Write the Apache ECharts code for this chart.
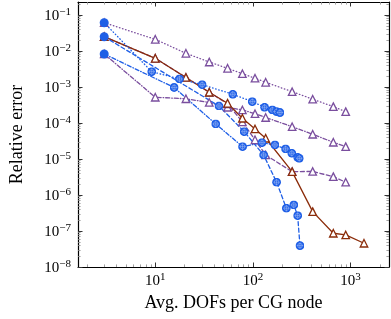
<!DOCTYPE html>
<html><head><meta charset="utf-8">
<script src="https://cdn.jsdelivr.net/npm/echarts@6/dist/echarts.min.js"></script>
<style>html,body{margin:0;padding:0;background:#fff}#c{width:391px;height:319px}</style>
</head><body><div id="c"></div>
<script>
// ---- data ----
const xTickValues = [10, 100, 1000];
const yTickValues = [1e-8, 1e-7, 1e-6, 1e-5, 1e-4, 1e-3, 1e-2, 1e-1];

const xPurple = [3, 10, 20.6, 35.7, 55, 78, 105, 135, 252, 409, 665, 891];
const purpleDotted  = [0.061, 0.0211, 0.00863, 0.00494, 0.0033, 0.00234, 0.00175, 0.00135, 7.4e-4, 4.58e-4, 2.84e-4, 2.06e-4];
const purpleDashDot = [0.00826, 5.18e-4, 4.7e-4, 3.71e-4, 2.73e-4, 2.30e-4, 1.81e-4, 1.42e-4, 7.89e-5, 4.85e-5, 2.91e-5, 2.2e-5];
const purpleDashed  = [0.0249, 0.00627, 0.00184, 7.13e-4, 3.4e-4, 1.07e-4, 3.4e-5, 1.29e-5, 4.44e-6, 4.5e-6, 3.22e-6, 2.26e-6];

const xBrown = [3, 10, 20.6, 35.7, 55, 78, 105, 135, 252, 409, 665, 891, 1371];
const brownSolid = [0.0249, 0.00627, 0.00184, 7.13e-4, 3.52e-4, 1.35e-4, 6.81e-5, 3.76e-5, 4.44e-6, 3.44e-7, 8.63e-8, 7.74e-8, 4.55e-8];

const xBlueDotted = [3, 9.2, 17.7, 30.2, 62.2, 98.4, 131.6, 158, 174.5, 189];
const blueDotted  = [0.061, 0.00266, 0.00167, 0.00116, 6.27e-4, 3.91e-4, 2.73e-4, 2.30e-4, 2.07e-4, 1.95e-4];

const xBlueDashed = [3, 44.9, 81.4, 128.6, 174.6, 220, 262, 287, 303];
const blueDashed  = [0.0249, 2.96e-4, 5.73e-5, 1.29e-5, 2.26e-6, 4.28e-7, 5.27e-7, 2.66e-7, 3.91e-8];

const xBlueDashDot = [3, 15.6, 41.6, 78.3, 123.7, 168, 216, 250, 287, 298];
const blueDashDot  = [0.00826, 9.68e-4, 9.37e-5, 2.2e-5, 2.84e-5, 2.45e-5, 1.90e-5, 1.44e-5, 1.11e-5, 1.04e-5];

// ---- styling ----
const FONT = 'Liberation Serif';
const PURPLE = '#7a4e9e', BROWN = '#8b2c0a', BLUE = '#1f5fe6';
const X_MIN = 1.618, X_MAX = 2472, Y_MIN = 0.995e-8, Y_MAX = 0.2296;

function minorsBetween(lo, hi) {
  const out = [];
  for (let e = Math.floor(Math.log10(lo)); e <= Math.ceil(Math.log10(hi)); e++) {
    for (let k = 2; k <= 9; k++) {
      const v = k * Math.pow(10, e);
      if (v > lo && v < hi) out.push(v);
    }
  }
  return out;
}
const xMinor = minorsBetween(X_MIN, X_MAX);
const yMinor = minorsBetween(Y_MIN, Y_MAX);

const rich = {
  b: {fontFamily: FONT, fontSize: 15, lineHeight: 17, verticalAlign: 'bottom', color: '#000'},
  s: {fontFamily: FONT, fontSize: 11, lineHeight: 6, verticalAlign: 'top', color: '#000'}
};
function powFmt(v) {
  const e = Math.round(Math.log10(v));
  return '{b|10}{s|' + (e < 0 ? '\u2212' + (-e) : e) + '}';
}

function axis(kind, pos, major, withLabel, line) {
  const isX = kind === 'x';
  return {
    type: 'log', logBase: 10, position: pos,
    min: isX ? X_MIN : Y_MIN, max: isX ? X_MAX : Y_MAX,
    splitLine: {show: false},
    axisLine: {show: line, lineStyle: {color: '#000', width: 1.2}},
    axisTick: {
      show: true, inside: true,
      length: major ? 4.5 : 2.6,
      customValues: major ? (isX ? xTickValues : yTickValues) : (isX ? xMinor : yMinor),
      lineStyle: {color: major ? '#333' : '#8a8a8a', width: major ? 1 : 0.8}
    },
    axisLabel: withLabel ? {
      customValues: isX ? xTickValues : yTickValues,
      formatter: powFmt, rich: rich, margin: isX ? 5 : 7
    } : {show: false}
  };
}

const xAxes = [
  axis('x', 'bottom', true, true, true),
  axis('x', 'bottom', false, false, false),
  axis('x', 'top', true, false, true),
  axis('x', 'top', false, false, false)
];
Object.assign(xAxes[0], {
  name: 'Avg. DOFs per CG node', nameLocation: 'middle', nameGap: 27,
  nameTextStyle: {fontFamily: FONT, fontSize: 18, color: '#000'}
});
const yAxes = [
  axis('y', 'left', true, true, true),
  axis('y', 'left', false, false, false),
  axis('y', 'right', true, false, true),
  axis('y', 'right', false, false, false)
];
Object.assign(yAxes[0], {
  name: 'Relative error', nameLocation: 'middle', nameGap: 52, nameRotate: 90,
  nameTextStyle: {fontFamily: FONT, fontSize: 18, color: '#000'}
});

const blueSvg = "<svg xmlns='http://www.w3.org/2000/svg' width='18' height='18' viewBox='0 0 18 18'>" +
  "<circle cx='9' cy='9' r='8.8' fill='" + BLUE + "'/>" +
  "<circle cx='9' cy='9' r='4.6' fill='none' stroke='#b9cdfa' stroke-width='0.9'/>" +
  "<path d='M9 2.5V15.5M2.5 9H15.5' stroke='#b9cdfa' stroke-width='0.9'/></svg>";
const BLUE_SYMBOL = 'image://data:image/svg+xml;charset=utf-8,' + encodeURIComponent(blueSvg);

function dashOf(style) {
  if (style === 'dotted') return [0.6, 2.6];
  if (style === 'dashdot') return [4, 2, 0.6, 2];
  if (style === 'dashed') return [4, 2.6];
  return 'solid';
}
function triSeries(name, xs, ys, color, style, fill) {
  return {
    type: 'line', name: name, xAxisIndex: 0, yAxisIndex: 0,
    data: xs.map((x, i) => [x, ys[i]]),
    symbol: 'triangle', symbolSize: 7.5,
    itemStyle: {color: fill, borderColor: color, borderWidth: 1.3},
    lineStyle: {color: color, width: 1.3, type: dashOf(style), cap: 'round'},
    animation: false
  };
}
function blueSeries(name, xs, ys, style) {
  return {
    type: 'line', name: name, xAxisIndex: 0, yAxisIndex: 0,
    data: xs.map((x, i) => i === 0
      ? {value: [x, ys[i]], symbol: 'circle', symbolSize: 9, itemStyle: {color: BLUE, borderWidth: 0}}
      : [x, ys[i]]),
    symbol: BLUE_SYMBOL, symbolSize: 9,
    itemStyle: {color: BLUE},
    lineStyle: {color: BLUE, width: 1.3, type: dashOf(style), cap: 'round'},
    animation: false
  };
}

const chart = echarts.init(document.getElementById('c'), null, {renderer: 'canvas'});
chart.setOption({
  animation: false,
  backgroundColor: '#fff',
  grid: {left: 69, right: 2, top: 2, bottom: 52},
  xAxis: xAxes,
  yAxis: yAxes,
  series: [
    triSeries('p1', xPurple, purpleDotted, PURPLE, 'dotted', '#fff'),
    triSeries('p2', xPurple, purpleDashDot, PURPLE, 'dashdot', '#fff'),
    triSeries('p3', xPurple, purpleDashed, PURPLE, 'dashed', '#fff'),
    triSeries('b0', xBrown, brownSolid, BROWN, 'solid', '#fff'),
    blueSeries('c1', xBlueDotted, blueDotted, 'dotted'),
    blueSeries('c2', xBlueDashed, blueDashed, 'dashed'),
    blueSeries('c3', xBlueDashDot, blueDashDot, 'dashdot')
  ]
});
</script></body></html>
